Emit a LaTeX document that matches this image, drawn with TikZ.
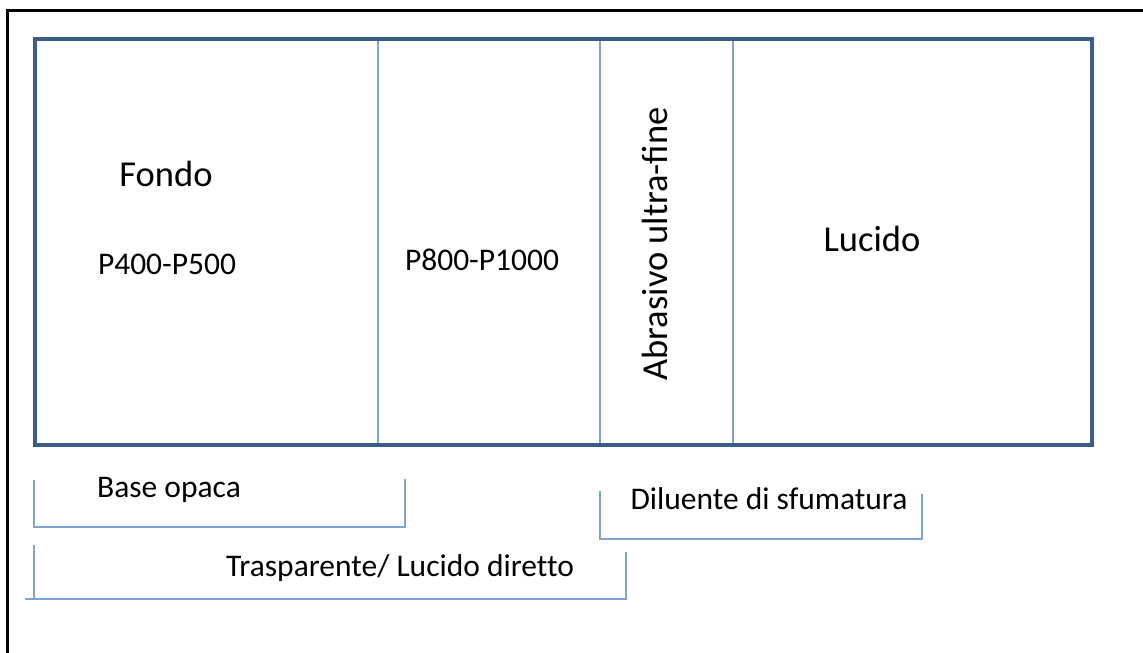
\documentclass[tikz,border=0pt]{standalone}
\usepackage{fontspec}
\setmainfont{Carlito}
\definecolor{boxblue}{RGB}{56,93,138}
\definecolor{lineblue}{RGB}{125,163,210}
\tikzset{
  frame/.style={draw=black, line width=3pt},
  mainbox/.style={draw=boxblue, line width=4pt, line join=miter},
  divider/.style={draw=lineblue, line width=2pt},
  bracket/.style={draw=lineblue, line width=2pt},
  bigtxt/.style={font=\fontsize{36.5}{40}\selectfont, inner sep=0pt, anchor=base},
  smalltxt/.style={font=\fontsize{31.5}{36}\selectfont, inner sep=0pt, anchor=base}
}
\begin{document}
\begin{tikzpicture}[x=1pt,y=-1pt]
\useasboundingbox (0,0) rectangle (1143,653);
\fill[white] (0,0) rectangle (1143,653);
% outer frame (top and left edges visible)
\draw[frame] (7,653) -- (7,10) -- (1143,10);
% main box
\coordinate (tl) at (35,39);
\coordinate (br) at (1092,445);
\draw[divider] (378,39) -- (378,445);
\draw[divider] (600,39) -- (600,445);
\draw[divider] (733,39) -- (733,445);
\draw[mainbox] (tl) rectangle (br);
% texts in box
\node[bigtxt] (fondo) at (166,186) {Fondo};
\node[smalltxt] (p400) at (167,274) {P400-P500};
\node[smalltxt] (p800) at (482,270) {P800-P1000};
\node[bigtxt, rotate=90] (abr) at (667,244) {Abrasivo ultra-fine};
\node[bigtxt] (lucido) at (872,251) {Lucido};
% brackets below
\node[smalltxt] (base) at (169,497) {Base opaca};
\draw[bracket] (34,480) -- (34,527) -- (405,527) -- (405,479);
\node[smalltxt] (dil) at (769,509) {Diluente di sfumatura};
\draw[bracket] (600,491) -- (600,539) -- (922,539) -- (922,494);
\node[smalltxt] (tras) at (400,576) {\addfontfeatures{Ligatures=NoCommon}Trasparente/ Lucido diretto};
\draw[bracket] (34,545) -- (34,599);
\draw[bracket] (25,599) -- (626,599) -- (626,552);
\end{tikzpicture}
\end{document}
